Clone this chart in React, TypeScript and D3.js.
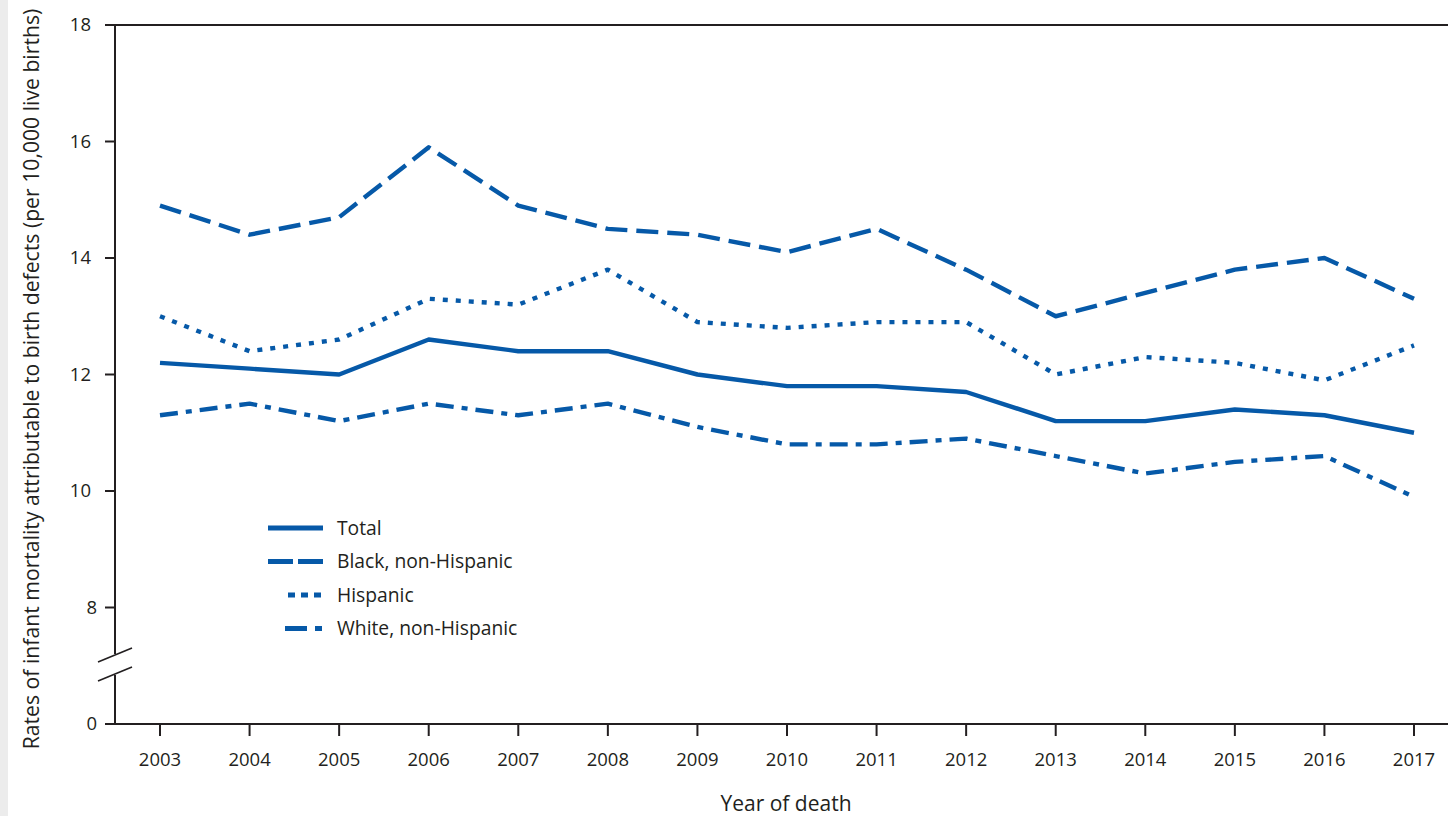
import React from "react";
import * as d3 from "d3";

const years = [2003, 2004, 2005, 2006, 2007, 2008, 2009, 2010, 2011, 2012, 2013, 2014, 2015, 2016, 2017];
const totalRates = [12.2, 12.1, 12.0, 12.6, 12.4, 12.4, 12.0, 11.8, 11.8, 11.7, 11.2, 11.2, 11.4, 11.3, 11.0];
const blackRates = [14.9, 14.4, 14.7, 15.9, 14.9, 14.5, 14.4, 14.1, 14.5, 13.8, 13.0, 13.4, 13.8, 14.0, 13.3];
const hispanicRates = [13.0, 12.4, 12.6, 13.3, 13.2, 13.8, 12.9, 12.8, 12.9, 12.9, 12.0, 12.3, 12.2, 11.9, 12.5];
const whiteRates = [11.3, 11.5, 11.2, 11.5, 11.3, 11.5, 11.1, 10.8, 10.8, 10.9, 10.6, 10.3, 10.5, 10.6, 9.9];
const yTicks = [8, 10, 12, 14, 16, 18];
const seriesNames = ["Total", "Black, non-Hispanic", "Hispanic", "White, non-Hispanic"];

const BLUE = "#0659a8";
const INK = "#231f20";
const FONT = "'Open Sans', sans-serif";

const series = [
  { name: seriesNames[0], values: totalRates, dash: "none", legendStart: 268 },
  { name: seriesNames[1], values: blackRates, dash: "22,9", legendStart: 268 },
  { name: seriesNames[2], values: hispanicRates, dash: "5,8", legendStart: 288 },
  { name: seriesNames[3], values: whiteRates, dash: "18,8,6,8", legendStart: 285 },
];
const legendDash = ["none", "25,5", "7,6", "22,8,7,8"];

export default function App() {
  const W = 1448, H = 816;
  const x = d3.scaleLinear().domain([2003, 2017]).range([160, 1414]);
  // break: the value 6 position is used for the "0" label
  const y = d3.scaleLinear().domain([6, 18]).range([724, 25]);
  const axisX = 115;
  const line = d3.line<number>().x((_, i) => x(years[i])).y((v) => y(v));

  return (
    <svg width={W} height={H} style={{ position: "absolute", left: 0, top: 0, background: "#fff" }} fontFamily={FONT}>
      <rect x={0} y={0} width={8} height={H} fill="#ececec" />
      {/* frame lines */}
      <line x1={105} x2={W} y1={y(18)} y2={y(18)} stroke={INK} strokeWidth={2} />
      <line x1={105} x2={W} y1={y(6)} y2={y(6)} stroke={INK} strokeWidth={2} />
      {/* y axis with break */}
      <line x1={axisX} x2={axisX} y1={y(18)} y2={654} stroke={INK} strokeWidth={2} />
      <line x1={axisX} x2={axisX} y1={675} y2={y(6)} stroke={INK} strokeWidth={2} />
      <line x1={98} x2={132} y1={662} y2={648} stroke={INK} strokeWidth={1.6} />
      <line x1={98} x2={132} y1={681} y2={667} stroke={INK} strokeWidth={1.6} />
      {yTicks.map((t) => (
        <g key={t}>
          <line x1={105} x2={axisX} y1={y(t)} y2={y(t)} stroke={INK} strokeWidth={2} />
          <text x={t >= 10 ? 91 : 97} y={y(t)} dy="0.35em" textAnchor="end" fontSize={18.5} fill={INK}>{t}</text>
        </g>
      ))}
      <text x={97} y={y(6)} dy="0.35em" textAnchor="end" fontSize={18.5} fill={INK}>0</text>
      {/* x ticks */}
      {years.map((yr) => (
        <g key={yr}>
          <line x1={x(yr)} x2={x(yr)} y1={y(6)} y2={736} stroke={INK} strokeWidth={2} />
          <text x={x(yr)} y={760} dy="0.35em" textAnchor="middle" fontSize={18.5} fill={INK}>{yr}</text>
        </g>
      ))}
      <text x={786} y={804} dy="0.35em" textAnchor="middle" fontSize={21} fill={INK}>Year of death</text>
      <text transform={`translate(32,379) rotate(-90)`} dy="0.35em" textAnchor="middle" fontSize={21.2} fill={INK}>
        Rates of infant mortality attributable to birth defects (per 10,000 live births)
      </text>
      {/* series */}
      {series.map((s) => (
        <path key={s.name} d={line(s.values) || ""} fill="none" stroke={BLUE} strokeWidth={4.4}
          strokeDasharray={s.dash} strokeLinejoin="round" />
      ))}
      {/* legend */}
      {series.map((s, i) => {
        const ly = 528 + i * 33.5;
        return (
          <g key={s.name}>
            <line x1={s.legendStart} x2={323} y1={ly} y2={ly} stroke={BLUE} strokeWidth={5} strokeDasharray={legendDash[i]} />
            <text x={337} y={ly} dy="0.35em" fontSize={19.3} fill={INK}>{s.name}</text>
          </g>
        );
      })}
    </svg>
  );
}
